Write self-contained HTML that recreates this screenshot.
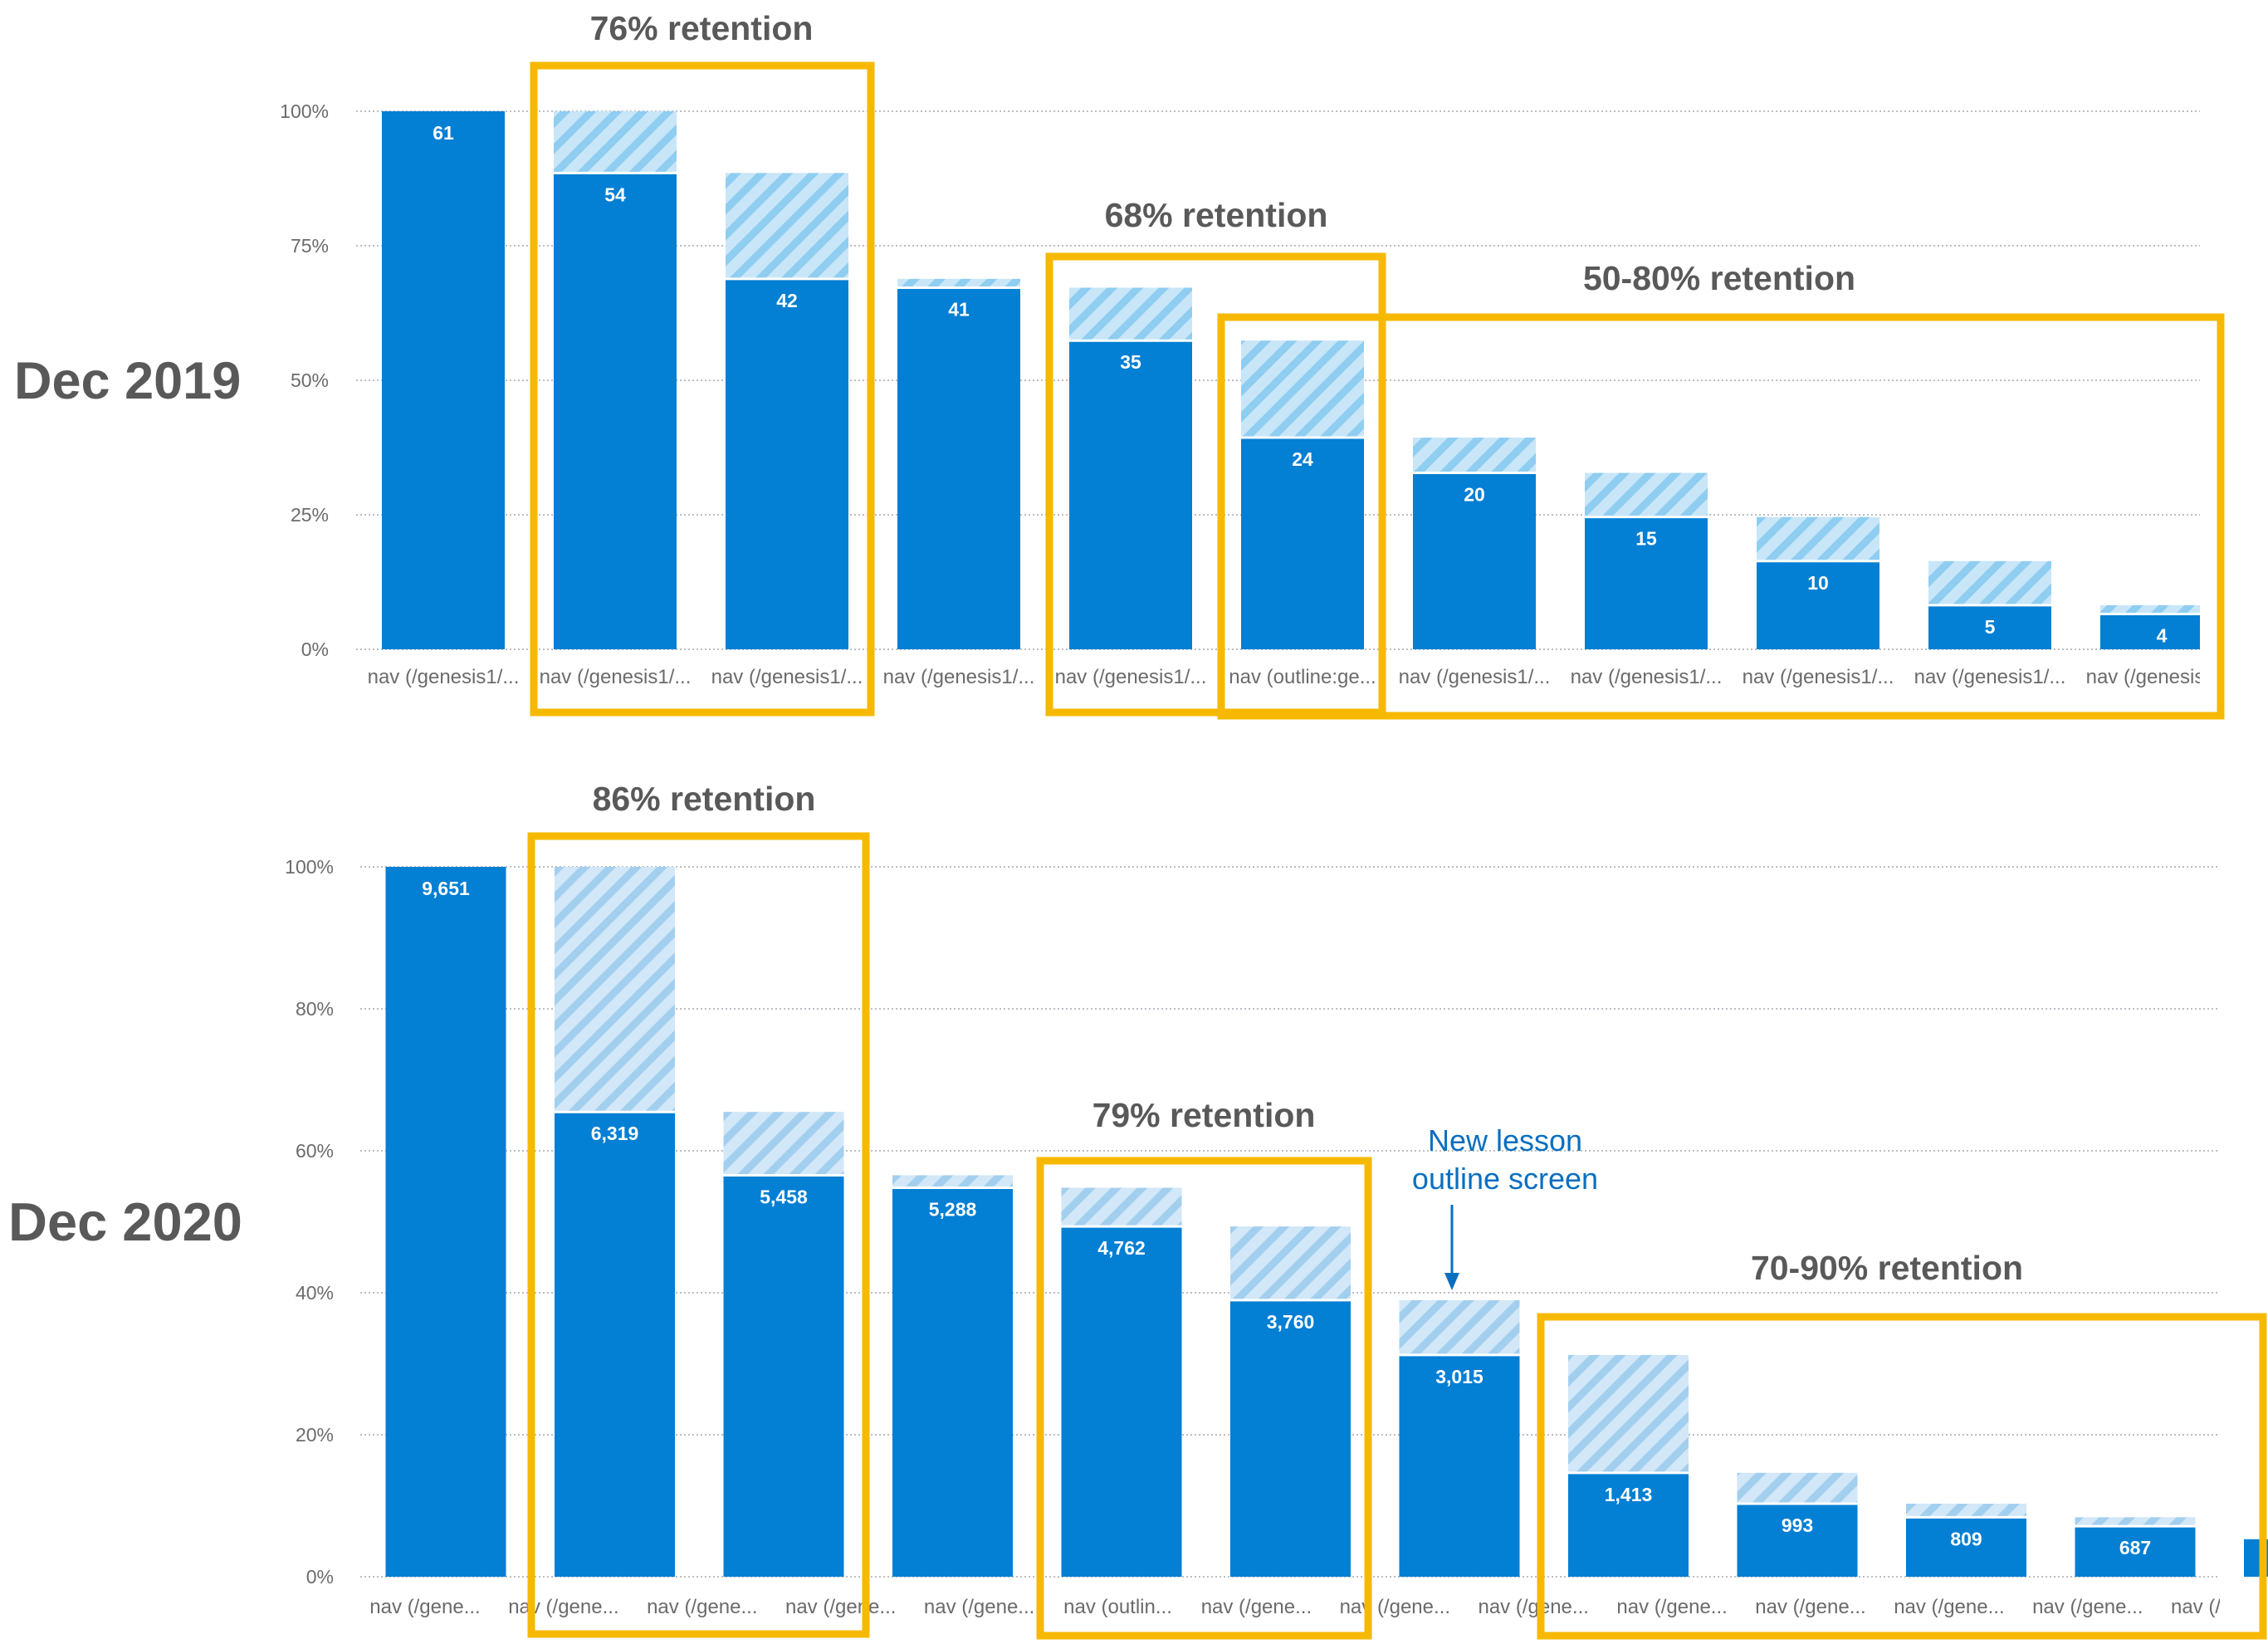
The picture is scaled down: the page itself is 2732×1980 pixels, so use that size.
<!DOCTYPE html>
<html><head><meta charset="utf-8">
<style>
html,body{margin:0;padding:0;background:#fff;}
svg{display:block;font-family:"Liberation Sans",sans-serif;}
</style></head>
<body>
<svg id="root" width="2732" height="1980" viewBox="0 0 2732 1980" xmlns="http://www.w3.org/2000/svg">
<defs>
<pattern id="hatch1" patternUnits="userSpaceOnUse" width="22" height="22" patternTransform="rotate(45)">
<rect width="22" height="22" fill="#c8e6f8"/><rect width="9" height="22" fill="#8fcdf1"/>
</pattern>
<pattern id="hatch2" patternUnits="userSpaceOnUse" width="22" height="22" patternTransform="rotate(45)">
<rect width="22" height="22" fill="#d2e7f7"/><rect width="9" height="22" fill="#a3cfef"/>
</pattern>
<clipPath id="clipTop"><rect x="0" y="0" width="2650" height="900"/></clipPath>
<clipPath id="clipBot"><rect x="0" y="960" width="2732" height="1020"/></clipPath>
<clipPath id="clipBotLabels"><rect x="0" y="1900" width="2674" height="80"/></clipPath>
</defs>
<g id="top" clip-path="url(#clipTop)"></g>
<g id="bot" clip-path="url(#clipBot)"></g>
<g id="annot"></g>
</svg>
<script>
// Dec 2019 data
const topCategories = ["nav (/genesis1/...","nav (/genesis1/...","nav (/genesis1/...","nav (/genesis1/...","nav (/genesis1/...","nav (outline:ge...","nav (/genesis1/...","nav (/genesis1/...","nav (/genesis1/...","nav (/genesis1/...","nav (/genesis1/..."];
const topValues = [61,54,42,41,35,24,20,15,10,5,4];
const topTicks = [0,25,50,75,100];
// Dec 2020 data
const botValues = [9651,6319,5458,5288,4762,3760,3015,1413,993,809,687,510];
const botShowLabel = [true,true,true,true,true,true,true,true,true,true,true,false];
const botShowPrior = [false,true,true,true,true,true,true,true,true,true,true,false];
const botTicks = [0,20,40,60,80,100];
const botCategories = ["nav (/gene...","nav (/gene...","nav (/gene...","nav (/gene...","nav (/gene...","nav (outlin...","nav (/gene...","nav (/gene...","nav (/gene...","nav (/gene...","nav (/gene...","nav (/gene...","nav (/gene...","nav (/gene..."];

const NS="http://www.w3.org/2000/svg";
function mk(tag,attrs,parent,text){const e=document.createElementNS(NS,tag);for(const k in attrs)e.setAttribute(k,attrs[k]);if(text!==undefined)e.textContent=text;parent.appendChild(e);return e;}

function drawChart(g,cfg){
  const yScale=p=>cfg.y0-(cfg.y0-cfg.y100)*p/100;
  const xCenter=i=>cfg.x0+i*cfg.pitch;
  cfg.ticks.forEach(t=>{
    const y=yScale(t);
    const l=mk('line',{x1:cfg.gx1,x2:cfg.gx2,y1:y,y2:y,stroke:'#b9bec4','stroke-width':2,'stroke-dasharray':'2 3'},g);
    
    
    const tx=mk('text',{x:cfg.tickX,y:y+8,'text-anchor':'end','font-size':23,fill:'#6b6b6b'},g,t+'%');
    
    
  });
  const base=cfg.values[0];
  cfg.values.forEach((v,i)=>{
    const cx=xCenter(i), x=cx-cfg.bw/2;
    const p=v/base*100;
    const showPrior=cfg.showPrior?cfg.showPrior[i]:i>0;
    if(showPrior){
      const pp=cfg.values[i-1]/base*100;
      const h=mk('rect',{x:x,y:yScale(pp),width:cfg.bw,height:yScale(p)-yScale(pp),fill:'url(#'+cfg.hatch+')'},g);
      
      
    }
    const r=mk('rect',{x:x,y:yScale(p),width:cfg.bw,height:cfg.y0-yScale(p),fill:'#037fd3'},g);
    
    
    if(showPrior){
      const sep=mk('line',{x1:x,x2:x+cfg.bw,y1:yScale(p),y2:yScale(p),stroke:'#ffffff','stroke-width':3},g);
      
      
    }
    if(!cfg.showLabel||cfg.showLabel[i]){
      const t=mk('text',{x:cx,y:yScale(p)+34,'text-anchor':'middle','font-size':23,'font-weight':'bold',fill:'#ffffff'},g,v.toLocaleString('en-US'));
      
      
    }
  });
  const lg=mk('g',cfg.labelClip?{'clip-path':'url(#'+cfg.labelClip+')'}:{},g);
  
  
  cfg.cats.forEach((c,i)=>{
    const t=mk('text',{x:cfg.lx0+i*cfg.lpitch,y:cfg.ly,'text-anchor':'middle','font-size':24,fill:'#6b6b6b'},lg,c);
    
    
  });
}

drawChart(document.getElementById('top'),{values:topValues,ticks:topTicks,cats:topCategories,y0:782,y100:134,x0:534,pitch:207,bw:148,gx1:429,gx2:2650,tickX:396,hatch:'hatch1',lx0:534,lpitch:207,ly:823});
drawChart(document.getElementById('bot'),{values:botValues,ticks:botTicks,cats:botCategories,showLabel:botShowLabel,showPrior:botShowPrior,y0:1899,y100:1044,x0:537,pitch:203.5,bw:145,gx1:434,gx2:2674,tickX:402,hatch:'hatch2',lx0:512,lpitch:166.9,ly:1943,labelClip:'clipBotLabels'});

const A=document.getElementById('annot');
function title(x,y,s,name){const t=mk('text',{x:x,y:y,'text-anchor':'middle','font-size':41,'font-weight':'bold',fill:'#595959'},A,s);}
function box(x1,y1,x2,y2,name){const r=mk('rect',{x:x1+4,y:y1+4,width:x2-x1-8,height:y2-y1-8,fill:'none',stroke:'#f6b900','stroke-width':9},A);}
const d1=mk('text',{x:17,y:480,'font-size':63,'font-weight':'bold',fill:'#595959'},A,'Dec 2019');


const d2=mk('text',{x:10,y:1494,'font-size':65,'font-weight':'bold',fill:'#595959'},A,'Dec 2020');


title(845,48,'76% retention','title-76-retention');
title(1465,273,'68% retention','title-68-retention');
title(2071,349,'50-80% retention','title-50-80-retention');
title(848,976,'86% retention','title-86-retention');
title(1450,1357,'79% retention','title-79-retention');
title(2273,1541,'70-90% retention','title-70-90-retention');
box(639,75,1053,862,'highlight-box-76');
box(1260,305,1669,862,'highlight-box-68');
box(1467,378,2679,866,'highlight-box-50-80');
box(636,1003,1047,1972,'highlight-box-86');
box(1249,1394,1652,1974,'highlight-box-79');
box(1852,1582,2730,1974,'highlight-box-70-90');
const n1=mk('text',{x:1813,y:1386,'text-anchor':'middle','font-size':36,fill:'#0a6fbf'},A,'New lesson');


const n2=mk('text',{x:1813,y:1432,'text-anchor':'middle','font-size':36,fill:'#0a6fbf'},A,'outline screen');


const ar=mk('line',{x1:1749,y1:1451,x2:1749,y2:1535,stroke:'#0a6fbf','stroke-width':3},A);


const ah=mk('polygon',{points:'1740,1533 1758,1533 1749,1554',fill:'#0a6fbf'},A);


</script>
</body></html>
